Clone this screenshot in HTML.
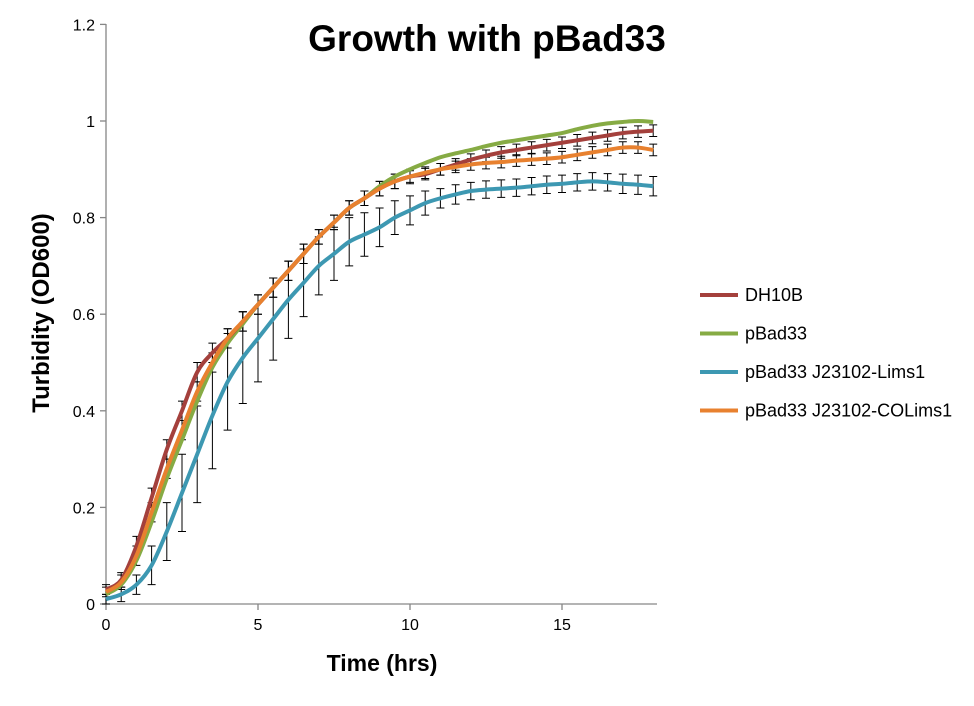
<!DOCTYPE html>
<html><head><meta charset="utf-8"><style>
body{margin:0;background:#fff;font-family:"Liberation Sans",Arial,sans-serif}
svg text{font-family:"Liberation Sans",Arial,sans-serif}
</style></head><body>
<svg id="chart" width="974" height="701" viewBox="0 0 974 701">
<rect width="974" height="701" fill="#fff"/>
<text x="487" y="51" text-anchor="middle" font-size="37" font-weight="bold">Growth with pBad33</text>
<text transform="translate(49,313) rotate(-90)" text-anchor="middle" font-size="24" font-weight="bold">Turbidity (OD600)</text>
<text x="382" y="671" text-anchor="middle" font-size="23" font-weight="bold">Time (hrs)</text>
<g id="axes"></g>
<g id="errs"></g>
<g id="lines"></g>
<g id="legend"></g>
</svg>
<script>
const times=[0,0.5,1,1.5,2,2.5,3,3.5,4,4.5,5,5.5,6,6.5,7,7.5,8,8.5,9,9.5,10,10.5,11,11.5,12,12.5,13,13.5,14,14.5,15,15.5,16,16.5,17,17.5,18];
const seriesNames=["DH10B","pBad33","pBad33 J23102-Lims1","pBad33 J23102-COLims1"];
const dh10b=[0.03,0.05,0.12,0.22,0.32,0.40,0.48,0.52,0.55,0.585,0.62,0.655,0.69,0.725,0.76,0.79,0.82,0.84,0.86,0.875,0.885,0.89,0.90,0.91,0.92,0.928,0.935,0.94,0.945,0.95,0.955,0.96,0.965,0.97,0.975,0.978,0.98];
const pbad=[0.02,0.04,0.09,0.17,0.26,0.34,0.42,0.49,0.54,0.58,0.62,0.655,0.69,0.725,0.76,0.79,0.82,0.84,0.865,0.885,0.90,0.913,0.925,0.933,0.94,0.948,0.955,0.96,0.965,0.97,0.975,0.983,0.99,0.995,0.998,1.0,0.998];
const lims=[0.01,0.02,0.04,0.08,0.15,0.23,0.31,0.39,0.46,0.51,0.55,0.59,0.63,0.665,0.70,0.725,0.75,0.765,0.78,0.80,0.815,0.83,0.84,0.848,0.855,0.858,0.86,0.862,0.865,0.868,0.87,0.873,0.875,0.873,0.87,0.868,0.865];
const colims=[0.025,0.045,0.10,0.19,0.28,0.36,0.44,0.50,0.55,0.585,0.62,0.655,0.69,0.725,0.76,0.79,0.82,0.84,0.86,0.875,0.885,0.893,0.90,0.905,0.91,0.913,0.915,0.918,0.92,0.922,0.925,0.93,0.935,0.94,0.945,0.945,0.94];
const errDh=[0.01,0.015,0.02,0.02,0.02,0.02,0.02,0.02,0.02,0.02,0.02,0.02,0.02,0.02,0.015,0.015,0.015,0.015,0.015,0.015,0.015,0.012,0.012,0.012,0.012,0.012,0.012,0.012,0.012,0.012,0.012,0.012,0.012,0.012,0.012,0.012,0.012];
const errLims=[0.01,0.015,0.02,0.04,0.06,0.08,0.1,0.11,0.1,0.095,0.09,0.085,0.08,0.07,0.06,0.055,0.05,0.045,0.04,0.035,0.03,0.025,0.02,0.02,0.018,0.018,0.018,0.018,0.018,0.018,0.018,0.018,0.018,0.018,0.02,0.02,0.02];
const errCo=[0.01,0.015,0.02,0.02,0.02,0.02,0.02,0.02,0.02,0.02,0.02,0.02,0.02,0.02,0.015,0.015,0.015,0.015,0.015,0.015,0.012,0.012,0.012,0.012,0.012,0.012,0.012,0.012,0.012,0.012,0.012,0.012,0.012,0.012,0.012,0.012,0.012];
const xTicks=[0,5,10,15];
const yTicks=[0,0.2,0.4,0.6,0.8,1,1.2];
const yTickLabels=["0","0.2","0.4","0.6","0.8","1","1.2"];
const colors=["#a4403c","#86ab44","#3d98b2","#e8812f"];
const NS="http://www.w3.org/2000/svg";
const X0=106,PXH=30.4,Y0=604,PXU=483;
const xs=t=>X0+t*PXH, ys=v=>Y0-v*PXU;
function mk(tag,attrs,parent){const e=document.createElementNS(NS,tag);for(const k in attrs)e.setAttribute(k,attrs[k]);parent.appendChild(e);return e;}
const axes=document.getElementById('axes');
let ax=mk('line',{x1:X0,y1:24,x2:X0,y2:Y0,stroke:'#868686','stroke-width':1.3},axes);

ax=mk('line',{x1:X0,y1:Y0,x2:657,y2:Y0,stroke:'#868686','stroke-width':1.3},axes);

yTicks.forEach((v,i)=>{const y=ys(v);
 mk('line',{x1:X0-6,y1:y,x2:X0,y2:y,stroke:'#868686','stroke-width':1.3},axes);
 const t=mk('text',{x:X0-11,y:y+6,'text-anchor':'end','font-size':16},axes);t.textContent=yTickLabels[i];
 });
xTicks.forEach(v=>{const x=xs(v);
 mk('line',{x1:x,y1:Y0,x2:x,y2:Y0+6,stroke:'#868686','stroke-width':1.3},axes);
 const t=mk('text',{x:x,y:Y0+26,'text-anchor':'middle','font-size':16},axes);t.textContent=String(v);
 });
const data=[dh10b,pbad,lims,colims];
const errs=[errDh,null,errLims,errCo];
const eg=document.getElementById('errs');
data.forEach((d,si)=>{const e=errs[si];if(!e)return;
 d.forEach((v,i)=>{const x=xs(times[i]),y1=ys(v-e[i]),y2=ys(v+e[i]);
  const p=mk('path',{d:`M${x},${y1}V${y2}M${x-4},${y1}H${x+4}M${x-4},${y2}H${x+4}`,stroke:'#000','stroke-width':1,fill:'none'},eg);
  });});
const lg=document.getElementById('lines');
function smooth(pts){let s=`M${pts[0][0]},${pts[0][1]}`;for(let i=0;i<pts.length-1;i++){const p0=pts[i-1]||pts[i],p1=pts[i],p2=pts[i+1],p3=pts[i+2]||p2;
 s+=`C${p1[0]+(p2[0]-p0[0])/6},${p1[1]+(p2[1]-p0[1])/6} ${p2[0]-(p3[0]-p1[0])/6},${p2[1]-(p3[1]-p1[1])/6} ${p2[0]},${p2[1]}`;}return s;}
[1,0,2,3].forEach(si=>{const pts=data[si].map((v,i)=>[xs(times[i]),ys(v)]);
 const p=mk('path',{d:smooth(pts),stroke:colors[si],'stroke-width':4,fill:'none','stroke-linejoin':'round'},lg);
 });
const leg=document.getElementById('legend');
seriesNames.forEach((n,i)=>{const y=295+i*38.5;
 const g=mk('g',{},leg);
 mk('line',{x1:700,y1:y,x2:738,y2:y,stroke:colors[i],'stroke-width':4},g);
 const t=mk('text',{x:745,y:y+6,'font-size':18},g);t.textContent=n;});
</script>
</body></html>
